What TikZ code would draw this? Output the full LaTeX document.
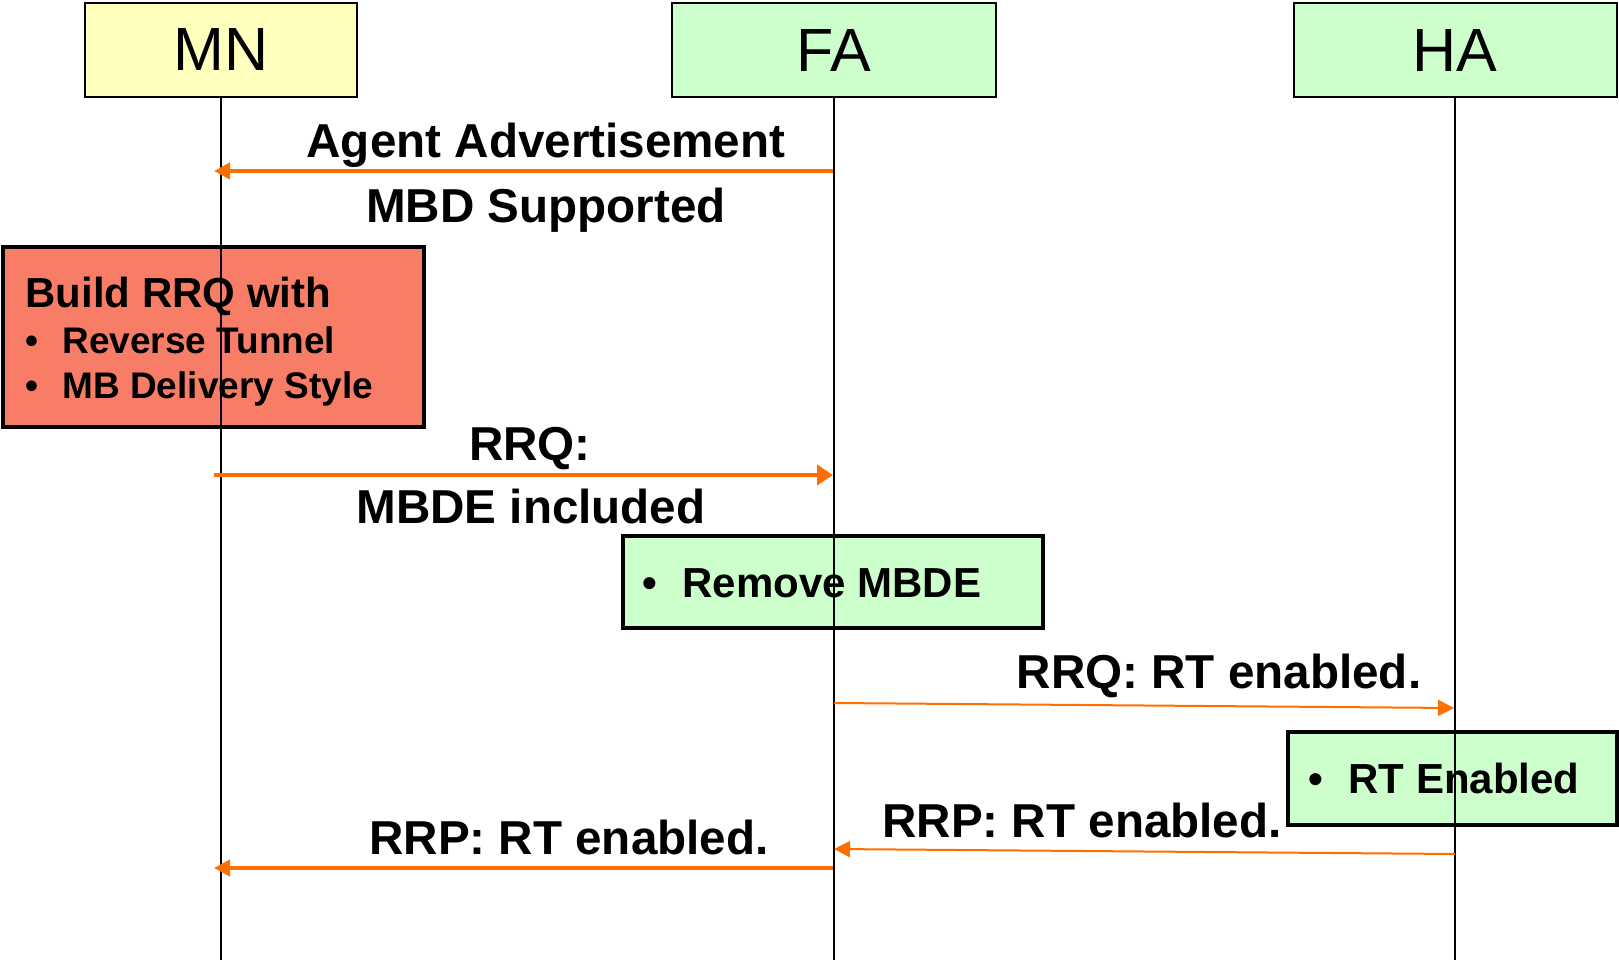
\documentclass[tikz,border=0pt]{standalone}
\usepackage{fontspec}
\setmainfont{Liberation Sans}
\usetikzlibrary{arrows.meta}

\definecolor{msgorange}{RGB}{255,110,0}
\definecolor{mnfill}{RGB}{255,255,190}
\definecolor{agentfill}{RGB}{205,255,205}
\definecolor{rrqfill}{RGB}{248,125,102}

\begin{document}
\begin{tikzpicture}[x=0.5pt, y=-0.5pt,
    entity/.style={draw, line width=1pt, minimum height=47pt, inner sep=0pt,
                   font=\fontsize{30.5}{36}\selectfont},
    lifeline/.style={line width=0.75pt},
    msgthick/.style={draw=msgorange, line width=2pt, -{Triangle[length=8pt,width=8pt]}},
    msgthin/.style={draw=msgorange, line width=1pt, -{Triangle[length=8pt,width=8pt]}},
    lbl/.style={anchor=base, inner sep=0pt, font=\fontsize{23.8}{28}\selectfont\bfseries},
    actbox/.style={draw, line width=2pt, inner sep=0pt},
    acttxt/.style={anchor=base west, inner sep=0pt, font=\fontsize{21}{25}\selectfont\bfseries},
    subtxt/.style={anchor=base west, inner sep=0pt, font=\fontsize{18.5}{22}\selectfont\bfseries}]

\useasboundingbox (0,0) rectangle (1619,963);

%% entities
\node[entity, fill=mnfill, minimum width=136pt] (mn) at (221,50) {MN};
\node[entity, fill=agentfill, minimum width=162pt] (fa) at (834,50.5) {FA};
\node[entity, fill=agentfill, minimum width=161.5pt] (ha) at (1455,50.5) {HA};

%% activation boxes
\node[actbox, fill=rrqfill, minimum width=210.5pt, minimum height=90pt] (rrqbox) at (213,337) {};
\node[actbox, fill=agentfill, minimum width=210pt, minimum height=46pt] (rmbox) at (833,582) {};
\node[actbox, fill=agentfill, minimum width=164.5pt, minimum height=46.5pt] (rtbox) at (1452.5,778.5) {};

%% lifelines
\coordinate (mnend) at (221,960);
\coordinate (faend) at (834,960);
\coordinate (haend) at (1455,960);
\draw[lifeline] (mn.south) -- (mnend);
\draw[lifeline] (fa.south) -- (faend);
\draw[lifeline] (ha.south) -- (haend);

%% box texts
\node[acttxt] (buildtxt) at (25,307) {Build RRQ with};
\node[subtxt] (revtxt) at (25,353) {\makebox[18.5pt][l]{•}Reverse Tunnel};
\node[subtxt] (mbtxt) at (25,398) {\makebox[18.5pt][l]{•}MB Delivery Style};
\node[acttxt] (rmtxt) at (642,597) {\makebox[20pt][l]{•}Remove MBDE};
\node[acttxt] (rttxt) at (1308,793) {\makebox[20pt][l]{•}RT Enabled};

%% messages
\coordinate (advfa) at (833,171);
\coordinate (advmn) at (214,171);
\draw[msgthick] (advfa) -- (advmn);
\node[lbl] (advtop) at (546,158) {Agent Advertisement};
\node[lbl] (advbot) at (546,222) {MBD Supported};

\coordinate (rrqmn) at (214,475);
\coordinate (rrqfa) at (833,475);
\draw[msgthick, -{Triangle[length=8pt,width=10pt]}] (rrqmn) -- (rrqfa);
\node[lbl] (rrqtop) at (530,460) {RRQ:};
\node[lbl] (rrqbot) at (531,523) {MBDE included};

\coordinate (rtqfa) at (834,703);
\coordinate (rtqha) at (1454,708);
\draw[msgthin] (rtqfa) -- (rtqha);
\node[lbl] (rtqtxt) at (1219,688) {RRQ: RT enabled.};

\coordinate (rtpha) at (1455,854);
\coordinate (rtpfa) at (834,849);
\draw[msgthin] (rtpha) -- (rtpfa);
\node[lbl] (rtptxt) at (1082,837) {RRP: RT enabled.};

\coordinate (rrpfa) at (833,868);
\coordinate (rrpmn) at (214,868);
\draw[msgthick] (rrpfa) -- (rrpmn);
\node[lbl] (rrptxt) at (569,854) {RRP: RT enabled.};

\end{tikzpicture}
\end{document}
